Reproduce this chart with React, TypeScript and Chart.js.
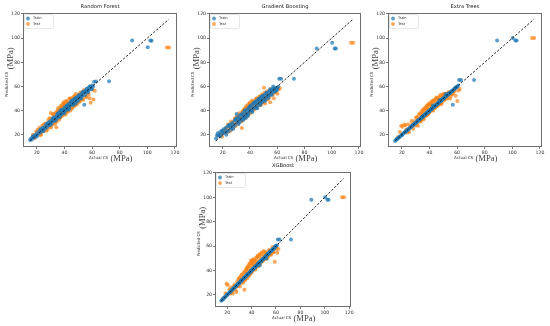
import React, { useEffect, useRef } from "react";
import { Chart, registerables } from "chart.js";
Chart.register(...registerables);

const tickValues = [20, 40, 60, 80, 100, 120];
const diagLine = [15, 115.5];
const seriesNames = ["Train", "Test"];

const trainActual = [
  15.1, 15.9, 16.4, 17.5, 18.2, 18.3, 19.4, 20.1, 20.7, 21.6,
  22.3, 23.0, 23.8, 24.2, 25.1, 25.7, 26.3, 26.9, 27.2, 28.0,
  28.6, 29.1, 29.5, 30.2, 30.8, 31.3, 31.9, 32.4, 32.6, 33.3,
  33.9, 34.5, 35.0, 35.4, 35.9, 36.3, 36.8, 37.4, 37.9, 38.2,
  38.8, 39.3, 39.7, 40.1, 40.6, 41.2, 41.5, 42.1, 42.6, 43.0,
  43.7, 44.2, 44.5, 45.1, 45.8, 46.2, 46.7, 47.3, 47.8, 48.4,
  48.9, 49.3, 49.9, 50.5, 51.0, 51.6, 52.2, 52.7, 53.3, 53.9,
  54.4, 55.0, 55.6, 56.3, 56.9, 57.4, 58.1, 58.7, 59.4, 60.0,
  60.8, 61.5, 62.9, 72.3, 89.0, 100.3, 102.2, 103.1,
  16.9, 19.9, 22.7, 24.8, 27.7, 29.8, 31.6, 33.7, 34.9, 36.6,
  38.5, 39.9, 41.8, 43.4, 44.9, 46.5, 47.6, 49.6, 50.8, 52.0,
  53.6, 54.8, 56.0, 57.1, 58.4, 59.7, 37.1, 42.9, 45.5, 48.1,
];

const testActual = [
  17.2, 18.6, 19.5, 21.8, 23.1, 24.0, 24.6, 26.2, 27.5, 28.3,
  28.9, 30.1, 30.7, 31.0, 32.2, 32.9, 33.4, 34.1, 34.8, 35.2,
  35.7, 36.0, 36.9, 37.2, 37.6, 38.3, 38.7, 39.0, 39.6, 40.0,
  40.4, 41.1, 41.5, 41.8, 42.5, 43.0, 43.3, 44.0, 44.8, 45.2,
  45.5, 46.3, 47.0, 47.4, 47.9, 48.6, 49.5, 50.3, 51.2, 52.4,
  53.0, 53.6, 54.9, 56.1, 57.5, 59.0, 60.2, 61.0, 114.2, 115.8,
  20.5, 22.6, 25.3, 27.0, 29.4, 30.4, 31.7, 33.0, 33.8, 34.5,
  35.5, 36.3, 36.6, 37.4, 38.0, 38.5, 39.3, 39.8, 40.2, 40.8,
  41.3, 42.0, 42.8, 43.6, 44.3, 45.0, 45.8, 46.6, 47.2, 48.2,
  49.0, 49.8, 50.8, 51.6, 52.8, 54.2, 55.5, 57.0, 58.3, 62.0,
];

const rfTrainPred = [
  15.8, 17.0, 16.1, 18.9, 17.6, 19.8, 19.0, 21.4, 20.2, 22.9,
  21.8, 24.6, 23.1, 25.9, 24.7, 27.0, 25.6, 28.8, 26.4, 29.1,
  28.0, 30.9, 29.9, 31.2, 29.4, 33.0, 31.5, 34.6, 31.8, 34.0,
  33.2, 36.4, 34.1, 37.8, 35.5, 38.6, 36.0, 39.5, 37.1, 40.2,
  38.1, 41.0, 39.3, 42.6, 39.8, 43.5, 41.0, 44.1, 42.2, 45.6,
  43.0, 46.5, 44.9, 47.3, 45.1, 48.6, 46.0, 49.5, 47.2, 50.8,
  48.2, 51.3, 49.5, 52.6, 50.4, 53.0, 51.6, 54.8, 52.5, 55.2,
  45.0, 56.4, 54.8, 57.7, 56.2, 58.9, 57.5, 59.6, 58.8, 60.8,
  60.1, 64.0, 64.2, 64.3, 98.0, 92.4, 98.0, 97.9,
  18.4, 18.6, 24.5, 23.2, 29.6, 28.1, 33.7, 32.0, 37.2, 34.9,
  40.8, 38.0, 44.3, 41.6, 47.5, 44.7, 50.0, 47.8, 53.1, 50.2,
  55.9, 52.9, 58.0, 55.3, 60.2, 57.8, 40.4, 40.9, 48.4, 46.0,
];
const rfTestPred = [
  20.1, 17.5, 22.8, 26.0, 20.5, 27.8, 23.0, 29.5, 24.2, 32.6,
  26.4, 38.2, 33.0, 28.4, 37.5, 35.1, 30.2, 26.3, 38.9, 40.6,
  33.8, 37.4, 42.5, 34.6, 40.1, 44.8, 36.2, 41.5, 46.0, 38.3,
  43.6, 47.3, 40.8, 44.2, 39.6, 46.9, 42.0, 49.8, 45.3, 41.7,
  50.6, 44.5, 48.2, 52.1, 45.0, 50.4, 46.3, 53.5, 48.0, 50.9,
  55.3, 49.0, 55.8, 51.2, 53.4, 46.5, 57.6, 49.2, 92.3, 92.3,
  24.1, 19.8, 28.9, 23.5, 34.0, 26.2, 36.8, 29.1, 38.5, 31.0,
  42.3, 32.8, 39.9, 44.0, 35.6, 42.7, 47.1, 37.2, 45.5, 36.9,
  48.3, 38.7, 46.0, 50.2, 40.1, 48.9, 42.6, 51.5, 44.0, 53.8,
  45.2, 52.3, 47.4, 55.0, 49.3, 57.2, 51.8, 54.6, 50.3, 56.5,
];

const gbTrainPred = [
  17.0, 19.5, 21.3, 20.0, 22.5, 18.9, 23.4, 21.1, 24.6, 22.0,
  25.8, 23.3, 27.1, 22.8, 28.0, 26.2, 24.5, 29.9, 28.3, 27.0,
  31.7, 28.2, 32.5, 37.2, 30.6, 34.1, 33.0, 30.4, 35.9, 32.8,
  36.8, 33.5, 38.2, 35.0, 34.0, 39.9, 37.1, 36.0, 41.2, 38.5,
  37.0, 42.3, 40.6, 39.4, 43.8, 40.2, 44.9, 41.5, 45.8, 42.6,
  47.1, 43.0, 46.4, 48.5, 44.9, 49.0, 47.6, 45.8, 50.3, 48.1,
  46.7, 51.8, 49.4, 53.1, 50.6, 48.8, 54.2, 51.9, 52.5, 55.6,
  53.0, 56.7, 54.1, 57.5, 55.2, 58.3, 56.9, 59.0, 57.4, 58.6,
  59.8, 66.5, 66.5, 66.5, 91.5, 96.3, 91.5, 91.5,
  19.8, 23.0, 20.1, 28.3, 25.0, 33.5, 29.0, 36.9, 32.1, 40.2,
  35.7, 43.6, 39.0, 46.8, 42.1, 49.9, 44.7, 52.4, 48.0, 55.1,
  50.6, 57.8, 53.1, 60.0, 55.6, 57.0, 33.9, 46.5, 42.3, 51.4,
];
const gbTestPred = [
  19.6, 21.0, 18.4, 24.9, 22.0, 28.7, 26.5, 31.0, 25.1, 30.4,
  33.8, 29.0, 35.6, 32.2, 38.0, 34.1, 31.5, 25.8, 39.5, 36.7,
  41.2, 34.5, 39.8, 43.6, 37.0, 41.9, 45.2, 38.1, 42.7, 46.8,
  40.5, 44.0, 48.3, 43.2, 46.1, 41.0, 47.5, 45.9, 50.2, 43.8,
  48.7, 45.1, 51.4, 47.9, 44.6, 49.8, 53.0, 59.0, 46.0, 51.0,
  49.5, 52.8, 47.0, 54.5, 50.3, 56.2, 54.0, 57.8, 96.3, 96.3,
  22.9, 25.8, 23.0, 30.1, 27.2, 34.8, 29.9, 36.5, 31.2, 39.1,
  33.0, 41.5, 37.8, 35.1, 43.2, 36.2, 42.0, 45.6, 38.0, 44.5,
  39.4, 47.2, 41.0, 48.6, 42.7, 50.1, 44.3, 49.5, 52.0, 45.6,
  53.4, 47.0, 54.8, 49.2, 56.0, 51.0, 57.9, 53.7, 55.2, 58.5,
];

const etTrainPred = [
  15.0, 16.0, 16.5, 17.4, 18.3, 18.2, 19.5, 20.0, 20.8, 21.5,
  22.4, 22.9, 23.9, 24.1, 25.2, 25.6, 26.4, 26.8, 27.3, 27.9,
  28.7, 29.0, 29.6, 30.1, 30.9, 31.2, 32.0, 32.3, 32.7, 33.2,
  34.0, 34.4, 35.1, 35.3, 36.0, 36.2, 36.9, 37.3, 38.0, 38.1,
  38.9, 39.2, 39.8, 40.0, 40.7, 41.1, 41.6, 42.0, 44.4, 42.9,
  43.8, 44.1, 44.6, 45.0, 45.9, 46.1, 46.8, 48.9, 47.9, 48.3,
  49.0, 49.2, 50.0, 50.4, 51.1, 53.9, 52.3, 52.6, 53.4, 53.8,
  54.5, 54.9, 55.7, 56.2, 45.0, 57.3, 58.2, 58.6, 59.5, 59.9,
  60.9, 65.5, 65.5, 65.5, 98.0, 100.1, 98.0, 98.0,
  17.0, 19.8, 22.8, 24.7, 27.8, 29.7, 31.7, 33.6, 35.0, 36.5,
  38.6, 39.8, 41.9, 43.3, 45.0, 46.4, 47.7, 49.5, 50.9, 51.9,
  53.7, 54.7, 56.1, 57.0, 58.5, 59.6, 37.0, 43.0, 45.4, 48.2,
];
const etTestPred = [
  18.0, 22.4, 27.5, 28.6, 24.3, 22.0, 28.8, 26.5, 28.7, 25.1,
  31.6, 27.8, 34.4, 30.0, 36.3, 33.0, 30.8, 37.9, 35.6, 40.7,
  33.2, 38.5, 42.1, 36.0, 40.3, 44.0, 37.1, 41.9, 38.4, 45.3,
  41.0, 43.8, 47.2, 40.1, 45.6, 43.0, 48.5, 42.6, 47.0, 50.4,
  44.1, 49.3, 46.0, 52.0, 48.8, 45.5, 51.7, 54.1, 49.6, 53.8,
  51.1, 55.0, 50.2, 53.6, 55.9, 52.4, 48.0, 56.8, 100.1, 100.1,
  26.8, 28.0, 22.5, 31.4, 29.9, 34.3, 27.6, 37.8, 31.5, 39.6,
  32.7, 41.8, 35.0, 43.0, 36.1, 44.6, 37.4, 46.2, 39.0, 45.0,
  41.9, 48.0, 40.2, 49.1, 42.5, 51.0, 43.9, 50.6, 45.1, 53.2,
  46.4, 52.9, 48.6, 54.1, 50.0, 55.3, 52.1, 54.0, 56.4, 58.0,
];

const xgbTrainPred = [
  15.2, 15.8, 16.5, 17.6, 18.1, 18.4, 19.3, 20.2, 20.6, 21.7,
  22.2, 23.1, 23.7, 24.3, 25.0, 25.8, 26.2, 27.0, 27.1, 28.1,
  28.5, 29.2, 29.4, 30.3, 30.7, 31.4, 31.8, 32.5, 32.5, 33.4,
  33.8, 34.6, 34.9, 35.5, 35.8, 36.4, 36.7, 37.5, 37.8, 38.3,
  38.7, 39.4, 39.6, 40.2, 40.5, 41.3, 41.4, 42.2, 42.5, 43.1,
  43.6, 44.3, 44.4, 45.2, 45.7, 46.3, 44.0, 47.4, 47.7, 48.5,
  48.8, 49.4, 49.8, 50.6, 50.9, 51.7, 49.8, 52.8, 53.2, 54.0,
  54.3, 55.1, 55.5, 56.4, 56.8, 57.5, 58.0, 58.8, 59.3, 60.1,
  60.7, 65.5, 65.5, 65.5, 98.0, 100.1, 98.0, 98.0,
  16.8, 20.0, 22.6, 24.9, 27.6, 29.9, 31.5, 33.8, 34.8, 36.7,
  38.4, 40.0, 41.7, 43.5, 44.8, 46.6, 47.5, 49.7, 50.7, 52.1,
  53.5, 54.9, 55.9, 57.2, 58.3, 59.8, 37.2, 42.8, 45.6, 48.0,
];
const xgbTestPred = [
  17.5, 21.2, 29.0, 24.3, 26.1, 22.5, 21.0, 28.4, 22.4, 31.2,
  27.0, 33.6, 29.5, 35.0, 31.4, 36.8, 32.0, 24.2, 39.1, 34.0,
  41.0, 37.2, 43.5, 35.8, 39.9, 45.8, 37.5, 42.0, 48.4, 39.2,
  44.6, 41.3, 49.0, 43.0, 46.7, 40.8, 48.0, 45.0, 51.0, 43.4,
  47.8, 52.6, 45.5, 50.3, 47.0, 53.1, 48.2, 52.0, 55.4, 49.7,
  53.9, 51.5, 56.0, 52.8, 55.0, 47.2, 57.9, 54.6, 100.1, 100.1,
  28.0, 20.9, 27.1, 24.0, 33.2, 26.8, 36.4, 30.0, 38.7, 31.8,
  40.9, 33.5, 42.6, 35.2, 44.3, 36.7, 46.0, 38.1, 47.5, 39.6,
  45.9, 49.0, 41.2, 50.5, 43.0, 52.0, 44.6, 53.3, 46.2, 54.7,
  47.8, 55.9, 49.6, 54.0, 51.3, 56.8, 53.0, 59.3, 55.1, 57.6,
];

type Box = { left: number; top: number; right: number; bottom: number };
type PanelCfg = { title: string; trainPred: number[]; testPred: number[]; box: Box };

const panels: PanelCfg[] = [
  { title: "Random Forest", trainPred: rfTrainPred, testPred: rfTestPred, box: { left: 23, top: 13, right: 177, bottom: 147 } },
  { title: "Gradient Boosting", trainPred: gbTrainPred, testPred: gbTestPred, box: { left: 209, top: 13, right: 361, bottom: 147 } },
  { title: "Extra Trees", trainPred: etTrainPred, testPred: etTestPred, box: { left: 388, top: 13, right: 542, bottom: 147 } },
  { title: "XGBoost", trainPred: xgbTrainPred, testPred: xgbTestPred, box: { left: 215, top: 172, right: 351, bottom: 307 } },
];

const TRAIN_COLOR = "rgba(31,119,180,0.72)";
const TEST_COLOR = "rgba(255,127,14,0.68)";
const SANS = '"DejaVu Sans", sans-serif';
const SERIF = '"Liberation Serif", "DejaVu Serif", serif';

const PL = 26, PT = 13, PR = 8, PB = 18;

function pairUp(xs: number[], ys: number[]) {
  const n = Math.min(xs.length, ys.length);
  const out: { x: number; y: number }[] = [];
  for (let i = 0; i < n; i++) out.push({ x: xs[i], y: ys[i] });
  return out;
}

function makeDecor(title: string) {
  return {
    id: "decor",
    afterDraw(chart: any) {
      const { ctx, chartArea } = chart;
      const { left, top, right, bottom } = chartArea;
      const cx = (left + right) / 2;
      const cy = (top + bottom) / 2;
      ctx.save();
      ctx.strokeStyle = "#6f6f6f";
      ctx.lineWidth = 1;
      ctx.strokeRect(Math.round(left) + 0.5, Math.round(top) + 0.5, Math.round(right - left) - 1, Math.round(bottom - top) - 1);
      ctx.fillStyle = "#222";
      ctx.font = `5.2px ${SANS}`;
      ctx.textAlign = "center";
      ctx.textBaseline = "middle";
      ctx.fillText(title, cx, top - 6);
      ctx.textAlign = "left";
      ctx.font = `4px ${SANS}`;
      const xs = cx - 11;
      const part1 = "Actual CS ";
      ctx.fillStyle = "#333";
      ctx.fillText(part1, xs, bottom + 11);
      const w1 = ctx.measureText(part1).width;
      ctx.font = `8.6px ${SERIF}`;
      ctx.fillStyle = "#444";
      ctx.fillText("(MPa)", xs + w1 + 1, bottom + 11.5);
      ctx.save();
      ctx.translate(left - 16, cy + 17);
      ctx.rotate(-Math.PI / 2);
      ctx.font = `4px ${SANS}`;
      ctx.fillStyle = "#333";
      const part2 = "Predicted CS ";
      ctx.fillText(part2, 0, 0);
      const w2 = ctx.measureText(part2).width;
      ctx.font = `8.6px ${SERIF}`;
      ctx.fillStyle = "#444";
      ctx.fillText("(MPa)", w2 + 1, 4);
      ctx.restore();
      const lx = left + 1.5, ly = top + 1.5, lw = 29, lh = 14;
      ctx.beginPath();
      const r = 1.5;
      ctx.moveTo(lx + r, ly);
      ctx.lineTo(lx + lw - r, ly);
      ctx.quadraticCurveTo(lx + lw, ly, lx + lw, ly + r);
      ctx.lineTo(lx + lw, ly + lh - r);
      ctx.quadraticCurveTo(lx + lw, ly + lh, lx + lw - r, ly + lh);
      ctx.lineTo(lx + r, ly + lh);
      ctx.quadraticCurveTo(lx, ly + lh, lx, ly + lh - r);
      ctx.lineTo(lx, ly + r);
      ctx.quadraticCurveTo(lx, ly, lx + r, ly);
      ctx.closePath();
      ctx.fillStyle = "rgba(255,255,255,0.85)";
      ctx.fill();
      ctx.strokeStyle = "#d6d6d6";
      ctx.lineWidth = 0.6;
      ctx.stroke();
      const colors = [TRAIN_COLOR, TEST_COLOR];
      seriesNames.forEach((name, i) => {
        const my = top + 5.5 + i * 5.5;
        ctx.beginPath();
        ctx.arc(left + 5, my, 1.9, 0, Math.PI * 2);
        ctx.fillStyle = colors[i];
        ctx.fill();
        ctx.font = `3.6px ${SANS}`;
        ctx.fillStyle = "#333";
        ctx.textAlign = "left";
        ctx.textBaseline = "middle";
        ctx.fillText(name, left + 10, my);
      });
      ctx.restore();
    },
  };
}

function Panel({ cfg }: { cfg: PanelCfg }) {
  const ref = useRef<HTMLCanvasElement>(null);
  const w = cfg.box.right - cfg.box.left + PL + PR;
  const h = cfg.box.bottom - cfg.box.top + PT + PB;
  useEffect(() => {
    if (!ref.current) return;
    const tickOpts = {
      font: { size: 4.6, family: SANS },
      color: "#333",
      padding: 1,
      maxRotation: 0,
      autoSkip: false,
      callback: (v: any) => String(Math.round(Number(v))),
    };
    const gridOpts = { drawOnChartArea: false, drawTicks: true, tickLength: 2, color: "#555", lineWidth: 0.8 };
    const chart = new Chart(ref.current, {
      type: "scatter",
      data: {
        datasets: [
          {
            type: "line",
            label: "diag",
            data: diagLine.map((v) => ({ x: v, y: v })),
            borderColor: "#111",
            borderWidth: 0.9,
            borderDash: [2.4, 1.6],
            pointRadius: 0,
            fill: false,
            order: 0,
          } as any,
          {
            label: seriesNames[0],
            data: pairUp(trainActual, cfg.trainPred),
            backgroundColor: TRAIN_COLOR,
            borderWidth: 0,
            pointRadius: 2,
            order: 1,
          },
          {
            label: seriesNames[1],
            data: pairUp(testActual, cfg.testPred),
            backgroundColor: TEST_COLOR,
            borderWidth: 0,
            pointRadius: 2,
            order: 2,
          },
        ],
      },
      options: {
        animation: false,
        responsive: false,
        maintainAspectRatio: false,
        devicePixelRatio: 1,
        events: [],
        layout: { padding: { left: 0, top: PT, right: PR, bottom: 0 } },
        plugins: { legend: { display: false }, tooltip: { enabled: false }, title: { display: false } },
        scales: {
          x: {
            type: "linear",
            min: 10,
            max: 121.5,
            afterFit: (s: any) => { s.height = PB; },
            afterBuildTicks: (s: any) => { s.ticks = tickValues.map((v) => ({ value: v })); },
            grid: gridOpts,
            border: { display: false },
            ticks: tickOpts,
          },
          y: {
            type: "linear",
            min: 10,
            max: 120.8,
            afterFit: (s: any) => { s.width = PL; },
            afterBuildTicks: (s: any) => { s.ticks = tickValues.map((v) => ({ value: v })); },
            grid: gridOpts,
            border: { display: false },
            ticks: tickOpts,
          },
        },
      } as any,
      plugins: [makeDecor(cfg.title)],
    });
    return () => chart.destroy();
  }, [cfg]);
  return (
    <canvas
      ref={ref}
      width={w}
      height={h}
      style={{ position: "absolute", left: cfg.box.left - PL, top: cfg.box.top - PT, width: w, height: h }}
    />
  );
}

export default function App() {
  return (
    <div style={{ position: "absolute", left: 0, top: 0, width: 550, height: 326, background: "#fff", overflow: "hidden" }}>
      {panels.map((p) => (
        <Panel key={p.title} cfg={p} />
      ))}
    </div>
  );
}
